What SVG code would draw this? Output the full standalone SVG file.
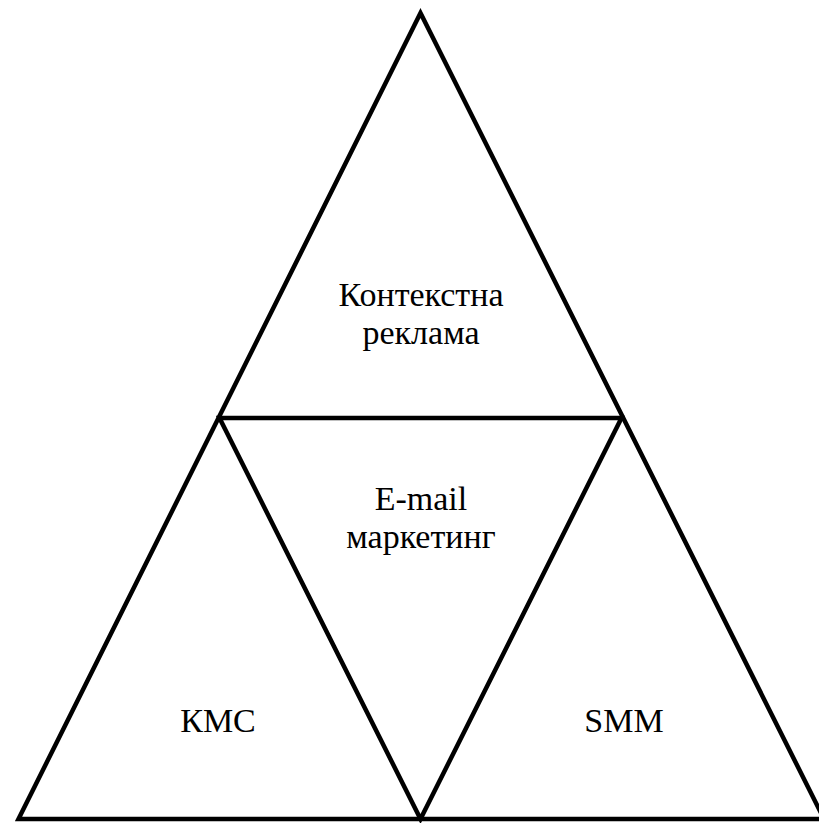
<svg xmlns="http://www.w3.org/2000/svg" width="819" height="823" viewBox="0 0 819 823">
<style>
.ln{fill:none;stroke:#000;stroke-width:4.5;stroke-linejoin:miter}
.t{font-family:"Liberation Serif","Times New Roman",serif;font-size:34px;fill:#000;text-anchor:middle}
</style>
<rect width="819" height="823" fill="#fff"/>
<g id="connectors">
<polygon class="ln" points="420.5,13 18.5,819 824,819"/>
<polygon class="ln" points="219.5,418 621.5,418 420.5,819"/>
</g>
<g id="node-context"><text class="t" x="421" y="306">Контекстна</text><text class="t" x="421" y="344">реклама</text></g>
<g id="node-email"><text class="t" x="421" y="510">E-mail</text><text class="t" x="421" y="548">маркетинг</text></g>
<g id="node-kms"><text class="t" x="218" y="732">КМС</text></g>
<g id="node-smm"><text class="t" x="624" y="732">SMM</text></g>
</svg>
